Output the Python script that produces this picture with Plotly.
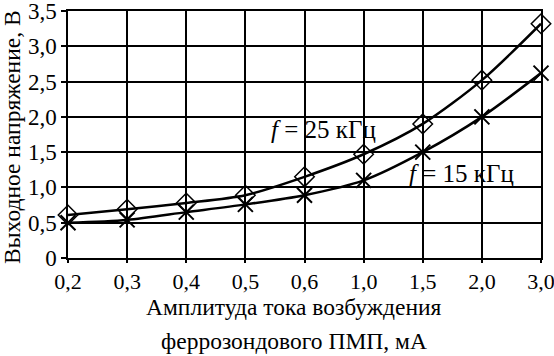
import plotly.graph_objects as go

currents = ["0,2", "0,3", "0,4", "0,5", "0,6", "1,0", "1,5", "2,0", "3,0"]
v_25k = [0.61, 0.69, 0.78, 0.89, 1.15, 1.47, 1.90, 2.52, 3.32]
v_15k = [0.50, 0.54, 0.65, 0.76, 0.89, 1.10, 1.50, 2.00, 2.62]
y_ticks = [0, 0.5, 1.0, 1.5, 2.0, 2.5, 3.0, 3.5]
y_labels = ["0", "0,5", "1,0", "1,5", "2,0", "2,5", "3,0", "3,5"]
x_title_lines = ["Амплитуда тока возбуждения", "феррозондового ПМП, мА"]
y_title = "Выходное напряжение, В"

FONT = "'Liberation Serif', 'DejaVu Serif', serif"

fig = go.Figure()
fig.add_trace(go.Scatter(
    x=currents, y=v_25k, mode="lines+markers", name="25 кГц",
    line=dict(color="black", width=2.5, shape="spline", smoothing=0.8),
    marker=dict(symbol="diamond-open", size=15, color="black", line=dict(width=1.5)),
    cliponaxis=False,
))
fig.add_trace(go.Scatter(
    x=currents, y=v_15k, mode="lines+markers", name="15 кГц",
    line=dict(color="black", width=2.5, shape="spline", smoothing=0.8),
    marker=dict(symbol="x-thin-open", size=15, color="black", line=dict(width=2, color="black")),
    cliponaxis=False,
))

fig.add_annotation(x=4.32, y=1.82, xref="x", yref="y", showarrow=False,
                   text="<i>f</i> = 25 кГц", font=dict(family=FONT, size=25, color="black"))
fig.add_annotation(x=6.66, y=1.2, xref="x", yref="y", showarrow=False,
                   text="<i>f</i> = 15 кГц", font=dict(family=FONT, size=25, color="black"))

# axis titles
fig.add_annotation(x=0.478, y=-0.2, xref="paper", yref="paper", showarrow=False,
                   text=x_title_lines[0], yanchor="middle",
                   font=dict(family=FONT, size=23.5, color="black"))
fig.add_annotation(x=0.478, y=-0.336, xref="paper", yref="paper", showarrow=False,
                   text=x_title_lines[1], yanchor="middle",
                   font=dict(family=FONT, size=23.5, color="black"))
fig.add_annotation(x=-0.118, y=0.487, xref="paper", yref="paper", showarrow=False,
                   text=y_title, textangle=-90, xanchor="center", yanchor="middle",
                   font=dict(family=FONT, size=23.5, color="black"))

fig.update_layout(
    width=554, height=356,
    margin=dict(l=68, r=13, t=11, b=98, autoexpand=False),
    paper_bgcolor="white", plot_bgcolor="white",
    showlegend=False,
    font=dict(family=FONT, size=22, color="black"),
    xaxis=dict(
        type="category", categoryorder="array", categoryarray=currents,
        range=[0, 8], showgrid=True, gridcolor="black", gridwidth=1.5,
        showline=True, linecolor="black", linewidth=1.5, mirror=True,
        ticks="outside", ticklen=3, tickcolor="black", tickwidth=1.5,
        tickfont=dict(family=FONT, size=22, color="black"),
        ticklabeloverflow="allow",
        zeroline=False, automargin=False,
    ),
    yaxis=dict(
        range=[0, 3.5], tickvals=y_ticks, ticktext=y_labels,
        showgrid=True, gridcolor="black", gridwidth=1.5,
        showline=True, linecolor="black", linewidth=1.5, mirror=True,
        ticks="outside", ticklen=5, tickcolor="black", tickwidth=1.5,
        tickfont=dict(family=FONT, size=23, color="black"),
        ticklabeloverflow="allow",
        zeroline=False, automargin=False,
    ),
)

fig.write_html("out.html", config={"displayModeBar": False},
               post_script="document.body.style.margin='0';")
